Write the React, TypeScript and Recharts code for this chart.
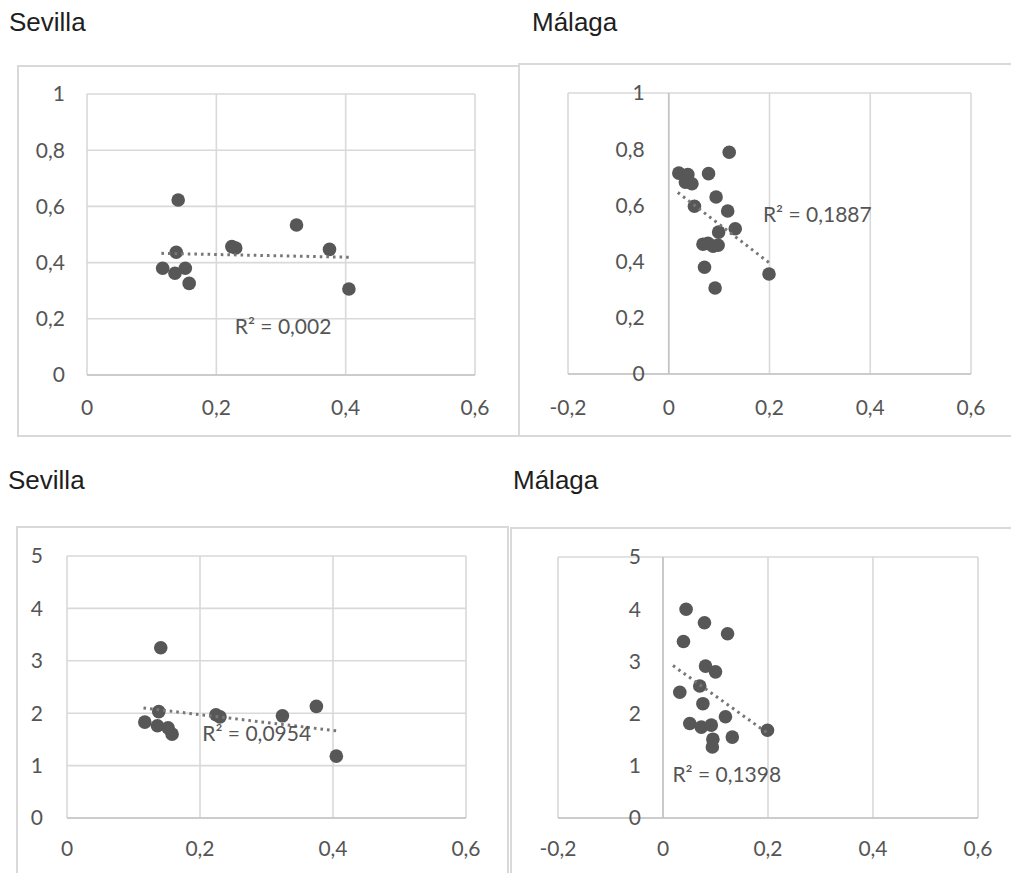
import React from 'react';
import { ScatterChart, Scatter, XAxis, YAxis, CartesianGrid, ReferenceLine, ReferenceDot } from 'recharts';

// Sevilla (same x variable in both Sevilla charts)
const sevillaX = [0.141, 0.138, 0.117, 0.136, 0.152, 0.158, 0.224, 0.23, 0.324, 0.375, 0.405];
const sevillaTopY = [0.623, 0.437, 0.38, 0.362, 0.38, 0.326, 0.457, 0.452, 0.534, 0.447, 0.306];
const sevillaBottomY = [3.25, 2.03, 1.83, 1.76, 1.72, 1.6, 1.97, 1.93, 1.95, 2.13, 1.18];

// Málaga top
const malagaTopX = [0.02, 0.038, 0.033, 0.046, 0.079, 0.12, 0.094, 0.051, 0.117, 0.132, 0.099, 0.068, 0.078, 0.088, 0.098, 0.071, 0.092, 0.199];
const malagaTopY = [0.715, 0.71, 0.683, 0.677, 0.713, 0.789, 0.63, 0.597, 0.58, 0.517, 0.505, 0.462, 0.465, 0.455, 0.458, 0.38, 0.306, 0.356];

// Málaga bottom
const malagaBottomX = [0.044, 0.079, 0.123, 0.039, 0.081, 0.1, 0.07, 0.032, 0.076, 0.119, 0.051, 0.073, 0.092, 0.095, 0.094, 0.132, 0.199];
const malagaBottomY = [4.0, 3.74, 3.53, 3.38, 2.91, 2.8, 2.53, 2.41, 2.19, 1.94, 1.81, 1.74, 1.78, 1.51, 1.36, 1.55, 1.68];

// trendline end points
const sevillaTopTrendX = [0.115, 0.405];
const sevillaTopTrendY = [0.433, 0.419];
const malagaTopTrendX = [0.018, 0.2];
const malagaTopTrendY = [0.646, 0.395];
const sevillaBottomTrendX = [0.115, 0.408];
const sevillaBottomTrendY = [2.1, 1.66];
const malagaBottomTrendX = [0.019, 0.2];
const malagaBottomTrendY = [2.92, 1.62];

// R² labels: text and anchor (left edge of text) in data units
const r2Texts = ['R² = 0,002', 'R² = 0,1887', 'R² = 0,0954', 'R² = 0,1398'];
const r2X = [0.227, 0.185, 0.202, 0.016];
const r2Y = [0.174, 0.567, 1.62, 0.84];

// ticks
const xTicksSevilla = [0, 0.2, 0.4, 0.6];
const xTicksMalaga = [-0.2, 0, 0.2, 0.4, 0.6];
const yTicksTop = [0, 0.2, 0.4, 0.6, 0.8, 1];
const yTicksBottom = [0, 1, 2, 3, 4, 5];

const titles = ['Sevilla', 'Málaga', 'Sevilla', 'Málaga'];

const zip = (xs: number[], ys: number[]) => xs.map((x, i) => ({ x, y: ys[i] }));
const fmt = (v: number) => String(v).replace('.', ',');

const FONT = 'Lato, "Open Sans", sans-serif';
const TEXT = '#555555';
const GRID = '#d9d9d9';

const Dot = (p: any) => <circle cx={p.cx} cy={p.cy} r={6.8} fill="#575757" />;
const NoShape = () => <g />;

interface PanelProps {
  left: number;
  top: number;
  width: number;
  height: number;
  margin: { top: number; right: number; bottom: number; left: number };
  yWidth: number;
  yTickMargin: number;
  xTickMargin: number;
  xDomain: [number, number];
  xTicks: number[];
  yDomain: [number, number];
  yTicks: number[];
  points: { x: number; y: number }[];
  trend: { x: number; y: number }[];
  r2: { x: number; y: number; text: string };
  axisAtZero?: boolean;
  zeroLabelGap?: number;
}

const Panel: React.FC<PanelProps> = (p) => {
  const tickStyle = { fill: TEXT, fontSize: 21, fontFamily: FONT };
  return (
    <>
      <div
        style={{
          position: 'absolute',
          left: p.left,
          top: p.top,
          width: p.width,
          height: p.height,
          boxSizing: 'border-box',
          border: `2px solid ${GRID}`,
        }}
      />
      <div style={{ position: 'absolute', left: p.left, top: p.top }}>
        <ScatterChart width={p.width} height={p.height} margin={p.margin}>
          <CartesianGrid stroke={GRID} strokeWidth={1.6} />
          <XAxis
            type="number"
            dataKey="x"
            domain={p.xDomain}
            ticks={p.xTicks}
            tickFormatter={fmt}
            tick={tickStyle}
            tickLine={false}
            tickMargin={p.xTickMargin}
            height={40}
            axisLine={{ stroke: '#c4c4c4', strokeWidth: 1.6 }}
            allowDataOverflow
          />
          <YAxis
            type="number"
            dataKey="y"
            domain={p.yDomain}
            ticks={p.yTicks}
            tickFormatter={fmt}
            tick={p.axisAtZero ? false : tickStyle}
            tickLine={false}
            tickMargin={p.yTickMargin}
            width={p.yWidth}
            axisLine={false}
            allowDataOverflow
          />
          {p.axisAtZero && <ReferenceLine x={0} stroke="#c4c4c4" strokeWidth={1.6} />}
          {p.axisAtZero &&
            p.yTicks.map((t) => (
              <ReferenceDot
                key={t}
                x={0}
                y={t}
                r={1}
                fill="none"
                stroke="none"
                ifOverflow="visible"
                label={{ value: fmt(t), position: 'left', offset: p.zeroLabelGap, ...tickStyle }}
              />
            ))}
          <Scatter data={p.points} shape={Dot} isAnimationActive={false} />
          <Scatter
            data={p.trend}
            shape={NoShape}
            line={{ stroke: '#777777', strokeWidth: 3, strokeDasharray: '2.6 4' }}
            isAnimationActive={false}
          />
          <ReferenceDot
            x={p.r2.x}
            y={p.r2.y}
            r={1}
            fill="none"
            stroke="none"
            ifOverflow="visible"
            label={{ value: p.r2.text, position: 'right', offset: 0, ...tickStyle }}
          />
        </ScatterChart>
      </div>
    </>
  );
};

const titleStyle = (left: number, top: number): React.CSSProperties => ({
  position: 'absolute',
  left,
  top,
  fontFamily: '"Liberation Sans", Arial, sans-serif',
  fontSize: 26,
  lineHeight: '26px',
  color: '#1e1e1e',
  whiteSpace: 'nowrap',
});

export default function App() {
  return (
    <div
      style={{
        position: 'absolute',
        left: 0,
        top: 0,
        width: 1011,
        height: 873,
        overflow: 'hidden',
        background: '#fff',
      }}
    >
      <div style={titleStyle(9, 9)}>{titles[0]}</div>
      <div style={titleStyle(532, 9)}>{titles[1]}</div>
      <div style={titleStyle(8, 467)}>{titles[2]}</div>
      <div style={titleStyle(513, 467)}>{titles[3]}</div>

      <Panel
        left={17}
        top={65}
        width={503}
        height={372}
        margin={{ top: 29, right: 45, bottom: 22, left: 10 }}
        yWidth={60}
        yTickMargin={16}
        xTickMargin={19}
        xDomain={[0, 0.6]}
        xTicks={xTicksSevilla}
        yDomain={[0, 1]}
        yTicks={yTicksTop}
        points={zip(sevillaX, sevillaTopY)}
        trend={zip(sevillaTopTrendX, sevillaTopTrendY)}
        r2={{ x: r2X[0], y: r2Y[0], text: r2Texts[0] }}
      />
      <Panel
        left={518}
        top={63}
        width={500}
        height={374}
        margin={{ top: 30, right: 47, bottom: 23, left: 50 }}
        yWidth={0}
        yTickMargin={0}
        xTickMargin={20}
        xDomain={[-0.2, 0.6]}
        xTicks={xTicksMalaga}
        yDomain={[0, 1]}
        yTicks={yTicksTop}
        points={zip(malagaTopX, malagaTopY)}
        trend={zip(malagaTopTrendX, malagaTopTrendY)}
        r2={{ x: r2X[1], y: r2Y[1], text: r2Texts[1] }}
        axisAtZero
        zeroLabelGap={23}
      />
      <Panel
        left={16}
        top={526}
        width={493}
        height={360}
        margin={{ top: 30, right: 43, bottom: 28, left: 11 }}
        yWidth={40}
        yTickMargin={18}
        xTickMargin={17}
        xDomain={[0, 0.6]}
        xTicks={xTicksSevilla}
        yDomain={[0, 5]}
        yTicks={yTicksBottom}
        points={zip(sevillaX, sevillaBottomY)}
        trend={zip(sevillaBottomTrendX, sevillaBottomTrendY)}
        r2={{ x: r2X[2], y: r2Y[2], text: r2Texts[2] }}
      />
      <Panel
        left={510}
        top={527}
        width={510}
        height={360}
        margin={{ top: 30, right: 42, bottom: 29, left: 48 }}
        yWidth={0}
        yTickMargin={0}
        xTickMargin={17}
        xDomain={[-0.2, 0.6]}
        xTicks={xTicksMalaga}
        yDomain={[0, 5]}
        yTicks={yTicksBottom}
        points={zip(malagaBottomX, malagaBottomY)}
        trend={zip(malagaBottomTrendX, malagaBottomTrendY)}
        r2={{ x: r2X[3], y: r2Y[3], text: r2Texts[3] }}
        axisAtZero
        zeroLabelGap={21}
      />
    </div>
  );
}
